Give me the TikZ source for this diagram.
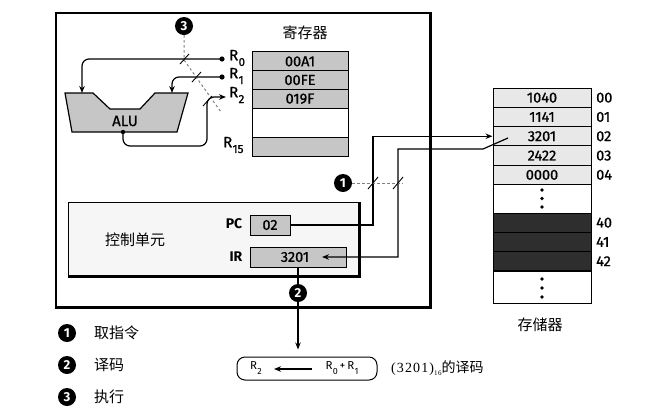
\documentclass[tikz,border=0pt]{standalone}
\usepackage{fontspec}
\usepackage{graphicx}
\setmainfont{Liberation Serif}
\setsansfont{Fira Sans}
\newfontfamily\semisans[FakeBold=0.8]{Fira Sans}
\newfontfamily\cjk{Noto Sans CJK SC}
\usetikzlibrary{arrows.meta,calc}
\newcommand\Rsub[1]{R\kern0.3pt\raisebox{-0.38em}{\scalebox{0.78}{#1}}}
\begin{document}
\begin{tikzpicture}[x=1pt,y=-1pt,
  every node/.style={inner sep=0pt},
  hexfont/.style={font=\semisans\fontsize{14.5}{16}\selectfont},
  regcell/.style={draw, line width=1pt, fill=gray!45, minimum width=96pt, minimum height=18.67pt, hexfont},
  memcell/.style={draw, line width=1pt, fill=gray!18, minimum width=98pt, minimum height=19.3pt, hexfont},
  darkcell/.style={draw, line width=1pt, fill=black!82, minimum width=98pt, minimum height=19.3pt},
  blankcell/.style={draw, line width=1pt, fill=white, minimum width=98pt},
  lbl/.style={font=\semisans\fontsize{15}{17}\selectfont},
  cjklbl/.style={font=\cjk\fontsize{15}{17}\selectfont},
  numc/.style={circle, fill=black, text=white, minimum size=18pt, font=\sffamily\bfseries\fontsize{13}{14}\selectfont},
  conn/.style={line width=1.2pt},
  tick/.style={line width=0.9pt},
  dashline/.style={gray, line width=1pt, dash pattern=on 2.5pt off 2.5pt},
  arr/.style={-{Stealth[length=7pt,width=5.5pt]}},
]
\useasboundingbox (0,0) rectangle (650,416);

% CPU outer box
\node[draw, line width=1.2pt, minimum width=374pt, minimum height=294pt] (cpu) at (243,160) {};
\draw[line width=2.6pt] (cpu.north east) -- (cpu.south east) -- (cpu.south west);

% registers
\node[cjklbl] (regt) at (305,33) {寄存器};
\node[regcell] (r0) at (300,61.33) {00A1};
\node[regcell] (r1) at (300,80) {00FE};
\node[regcell] (r2) at (300,98.67) {019F};
\node[regcell, fill=white, minimum height=29pt] (rb) at (300,122.5) {};
\node[regcell, minimum height=19pt] (r15) at (300,146.5) {};
\node[lbl, anchor=west] (lr0) at (229,58) {\Rsub{0}};
\node[lbl, anchor=west] (lr1) at (229,76) {\Rsub{1}};
\node[lbl, anchor=west] (lr2) at (229,95) {\Rsub{2}};
\node[lbl, anchor=west] (lr15) at (223,145) {\Rsub{15}};

% ALU
\draw[line width=1.2pt, fill=gray!45] (65,93) -- (93,93) -- (110,109) -- (140,109) -- (155,93) -- (188,93) -- (177,132) -- (72,132) -- cycle;
\node[lbl] (alu) at (125,121) {ALU};
\coordinate (aluA) at (82,93);
\coordinate (aluB) at (172,93);
\coordinate (aluO) at (123,132);
\coordinate (d0) at (222,59);
\coordinate (d1) at (222,77);
\coordinate (d2) at (226,97);

\draw[conn, arr, rounded corners=7pt] (d0) -- (82,59) -- (aluA);
\draw[conn, arr, rounded corners=7pt] (d1) -- (172,77) -- (aluB);
\draw[conn, arr, rounded corners=7pt] (aluO) -- (123,146) -- (207,146) -- (207,97) -- (d2);
\fill (d0) circle (2.6);
\fill (d1) circle (2.6);
\fill (aluO) circle (2.2);

% step 3 marker
\node[numc] (c3) at (184,26) {3};
\draw[dashline] (c3.south) -- (184,60) -- (221,112);
\draw[tick] (180,64) -- (189,54);
\draw[tick] (192,82) -- (201,72);
\draw[tick] (203,106) -- (212,96);

% control unit
\node[draw, line width=1pt, fill=gray!7, minimum width=290pt, minimum height=73pt] (cu) at (213,238.5) {};
\draw[line width=2.6pt] ([xshift=1pt]cu.north east) -- ([shift={(1pt,-1pt)}]cu.south east) -- ([yshift=-1pt]cu.south west);
\node[cjklbl] (cut) at (135,240) {控制单元};
\node[font=\sffamily\bfseries\fontsize{14}{16}\selectfont] (pcl) at (234,224) {PC};
\node[font=\sffamily\bfseries\fontsize{14}{16}\selectfont] (irl) at (236,257) {IR};
\node[regcell, minimum width=40pt, minimum height=20pt] (pc) at (270,225) {02};
\node[regcell, minimum width=96pt, minimum height=20pt] (ir) at (298,257) {\hspace*{-6pt}3201};

% memory
\node[memcell] (m0) at (542,97.65) {1040};
\node[memcell] (m1) at (542,116.95) {1141};
\node[memcell] (m2) at (542,136.25) {3201};
\node[memcell] (m3) at (542,155.55) {2422};
\node[memcell] (m4) at (542,174.85) {0000};
\node[blankcell, minimum height=28.5pt] (md1) at (542,198.75) {};
\node[darkcell] (m40) at (542,222.65) {};
\node[darkcell] (m41) at (542,241.95) {};
\node[darkcell] (m42) at (542,261.25) {};
\node[blankcell, minimum height=32pt] (md2) at (542,287) {};
\foreach \yy in {190,198.5,207,279,288,297} \fill (542,\yy) circle (1.8);
\foreach \nm/\yy/\t in {a0/97.65/00,a1/116.95/01,a2/136.25/02,a3/155.55/03,a4/174.85/04,a40/222.65/40,a41/241.95/41,a42/261.25/42}
  \node[hexfont, anchor=west] (\nm) at (596,\yy) {\t};
\node[cjklbl] (memt) at (540,325) {存储器};

% fetch connections
\coordinate (m2tap) at (508,138);
\coordinate (irtip) at (322,257);
\draw[conn, arr] (pc.east) -- (373,225) |- (m2.west);
\draw[conn, arr] (m2tap) -- (483,149) -- (398,149) -- (398,257) -- (irtip);
\node[numc] (c1) at (343,183) {1};
\draw[dashline] (c1.east) -- (403,183);
\draw[tick] (368,189) -- (378,177);
\draw[tick] (393,189) -- (403,177);

% decode
\node[draw, line width=1pt, rounded corners=8pt, minimum width=140pt, minimum height=23pt] (fbox) at (307,368.5) {};
\draw[conn, arr, shorten >=7pt] (ir.south) -- (ir.south |- fbox.north);
\node[numc] (c2) at (298,293) {2};
\node[font=\sffamily\fontsize{11.5}{13}\selectfont] (fR2) at (256,368) {\Rsub{2}};
\node[font=\sffamily\fontsize{11.5}{13}\selectfont] (fsum) at (342,368) {\Rsub{0}\,+\,\Rsub{1}};
\coordinate (ftail) at (312,369);
\coordinate (ftip) at (274,369);
\draw[conn, arr] (ftail) -- (ftip);
\node[anchor=west, font=\fontsize{14}{16}\selectfont] (cap) at (391,368) {\addfontfeature{LetterSpace=8}(3201)\raisebox{-0.25em}{\fontsize{7}{7}\selectfont 16}{\cjk 的译码}};

% legend
\node[numc] (l1) at (67,333) {1};
\node[numc] (l2) at (67,365) {2};
\node[numc] (l3) at (67,397) {3};
\node[cjklbl, anchor=west] (t1) at (94,333) {取指令};
\node[cjklbl, anchor=west] (t2) at (94,365) {译码};
\node[cjklbl, anchor=west] (t3) at (94,397) {执行};
\end{tikzpicture}
\end{document}
